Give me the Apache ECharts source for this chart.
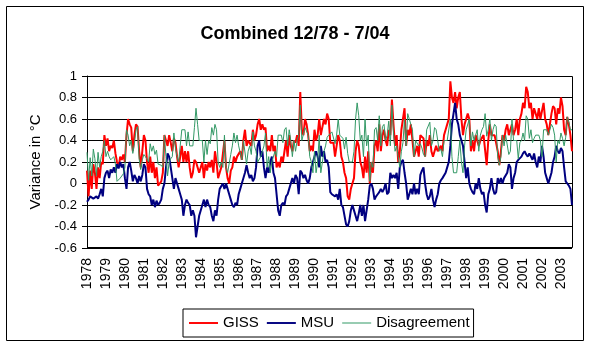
<!DOCTYPE html>
<html>
<head>
<meta charset="utf-8">
<script src="https://cdn.jsdelivr.net/npm/echarts@6/dist/echarts.min.js"></script>
<style>
html,body{margin:0;padding:0;background:#fff;}
#c{width:590px;height:347px;}
</style>
</head>
<body>
<div id="c"></div>
<script>
// Monthly values, 12/1978 .. 7/2004 (308 months)
const yearLabels = ['1978','1979','1980','1981','1982','1983','1984','1985','1986','1987','1988','1989','1990','1991','1992','1993','1994','1995','1996','1997','1998','1999','2000','2001','2002','2003'];

const giss = [
 0.12,-0.12,0.12,-0.05,0.18,0.1,-0.05,0.15,0.05,0.2,0.18,0.45,
 0.35,0.42,0.3,0.35,0.33,0.4,0.28,0.2,0.15,0.25,0.22,0.27,
 0.2,0.45,0.6,0.55,0.52,0.3,0.45,0.55,0.53,0.3,0.15,0.3,
 0.45,0.4,0.2,0.1,0.25,0.1,0.2,0.05,0.15,-0.02,0.0,0.02,
 0.1,0.45,0.4,0.35,0.45,0.38,0.3,0.42,0.38,0.25,0.15,0.25,
 0.35,0.2,0.3,0.2,0.3,0.15,0.05,0.1,0.22,0.2,0.15,0.1,
 0.1,0.2,0.05,0.18,0.12,0.2,0.15,0.22,0.1,0.3,0.2,0.05,
 0.1,0.15,0.15,0.4,0.15,0.05,0.0,0.12,0.15,0.25,0.2,0.25,
 0.25,0.3,0.22,0.4,0.5,0.35,0.4,0.4,0.35,0.5,0.4,0.45,
 0.55,0.6,0.5,0.55,0.5,0.52,0.3,0.35,0.3,0.45,0.3,0.35,
 0.15,0.2,0.15,0.25,0.2,0.3,0.4,0.25,0.45,0.35,0.3,0.4,
 0.38,0.45,0.35,0.85,0.5,0.45,0.6,0.55,0.45,0.3,0.35,0.3,
 0.5,0.4,0.45,0.6,0.45,0.45,0.6,0.55,0.65,0.6,0.38,0.38,
 0.38,0.25,0.35,0.45,0.4,0.25,0.2,0.1,0.05,-0.12,-0.15,-0.05,
 0.0,0.05,0.3,0.4,0.35,0.2,0.15,0.05,0.25,0.1,0.3,0.0,
 0.2,0.1,0.35,0.4,0.3,0.55,0.3,0.45,0.5,0.4,0.35,0.5,
 0.45,0.78,0.55,0.35,0.45,0.2,0.3,0.5,0.6,0.7,0.35,0.5,
 0.45,0.55,0.4,0.25,0.3,0.35,0.25,0.45,0.45,0.42,0.25,0.4,
 0.35,0.45,0.3,0.25,0.3,0.35,0.3,0.3,0.35,0.3,0.45,0.5,
 0.55,0.6,0.95,0.8,0.75,0.85,0.7,0.8,0.85,0.6,0.45,0.55,
 0.55,0.65,0.6,0.3,0.4,0.3,0.45,0.45,0.35,0.4,0.4,0.45,
 0.45,0.17,0.4,0.55,0.45,0.45,0.45,0.45,0.3,0.17,0.3,0.45,
 0.4,0.5,0.55,0.45,0.45,0.55,0.45,0.5,0.6,0.45,0.6,0.65,
 0.75,0.7,0.9,0.85,0.7,0.75,0.6,0.7,0.65,0.6,0.7,0.6,
 0.6,0.75,0.6,0.55,0.45,0.55,0.65,0.72,0.7,0.55,0.7,0.65,
 0.8,0.72,0.5,0.45,0.62,0.55,0.45,0.3
];

const msu = [
 -0.17,-0.15,-0.12,-0.12,-0.14,-0.13,-0.12,-0.14,-0.1,-0.05,-0.12,0.05,
 0.1,0.12,0.05,0.13,0.1,0.15,0.1,0.18,0.14,0.2,0.15,0.18,
 0.05,-0.05,0.15,0.2,0.12,0.02,0.08,0.05,0.0,0.07,0.02,0.08,
 0.18,0.15,-0.05,-0.1,-0.12,-0.2,-0.15,-0.22,-0.16,-0.2,-0.18,-0.15,
 -0.05,0.0,0.15,0.28,0.25,0.15,0.05,-0.05,0.05,0.0,-0.05,-0.1,
 -0.15,-0.3,-0.2,-0.15,-0.18,-0.2,-0.3,-0.25,-0.3,-0.5,-0.4,-0.3,
 -0.3,-0.2,-0.15,-0.22,-0.15,-0.2,-0.22,-0.3,-0.35,-0.25,-0.3,-0.15,
 -0.05,-0.05,0.0,-0.05,0.0,-0.05,-0.1,-0.15,-0.2,-0.22,-0.18,-0.2,
 -0.1,-0.05,0.0,0.0,0.1,0.17,0.1,0.05,0.08,0.02,0.05,0.15,
 0.35,0.4,0.25,0.3,0.15,0.05,0.15,0.1,0.2,0.25,0.1,0.05,
 -0.1,-0.25,-0.3,-0.2,-0.18,-0.2,-0.12,-0.1,-0.05,-0.05,0.05,0.0,
 0.08,0.05,-0.1,0.12,0.1,0.05,0.08,0.03,0.0,0.05,0.15,0.2,
 0.2,0.3,0.25,0.15,0.35,0.25,0.3,0.2,0.22,0.15,-0.08,-0.1,
 -0.1,-0.12,-0.1,-0.15,-0.05,-0.2,-0.22,-0.22,-0.38,-0.4,-0.35,-0.25,
 -0.2,-0.25,-0.3,-0.35,-0.28,-0.2,-0.3,-0.2,-0.35,-0.25,-0.15,-0.02,
 0.0,-0.05,-0.15,-0.12,-0.1,-0.08,-0.05,-0.08,-0.05,0.0,-0.1,-0.08,
 0.1,0.05,0.08,0.05,0.1,-0.05,0.15,0.2,0.22,0.1,0.0,-0.15,
 -0.15,-0.05,-0.1,0.0,-0.1,-0.05,-0.1,0.08,0.12,0.15,0.0,-0.1,
 -0.15,-0.12,-0.05,-0.15,-0.22,-0.15,-0.1,0.0,0.03,0.05,0.05,0.1,
 0.15,0.2,0.35,0.55,0.65,0.75,0.6,0.55,0.45,0.4,0.35,0.2,
 0.05,0.15,0.0,-0.05,-0.08,-0.1,0.0,-0.05,0.05,-0.05,-0.1,-0.08,
 -0.2,-0.27,-0.1,-0.05,0.05,-0.05,-0.1,-0.08,0.05,0.0,0.05,0.0,
 0.05,0.05,0.1,0.18,0.15,-0.05,0.05,0.1,0.2,0.22,0.22,0.25,
 0.28,0.3,0.27,0.25,0.28,0.25,0.22,0.28,0.2,0.15,0.25,0.2,
 0.35,0.25,0.1,0.05,0.0,0.05,0.1,0.2,0.25,0.35,0.3,0.28,
 0.33,0.3,0.15,0.02,0.0,-0.02,-0.05,-0.2
];

const disagreement = [
 0.29,0.03,0.24,0.07,0.32,0.23,0.07,0.29,0.15,0.25,0.30,0.40,
 0.25,0.30,0.25,0.22,0.23,0.25,0.18,0.02,0.01,0.05,0.07,0.09,
 0.15,0.50,0.45,0.35,0.40,0.28,0.37,0.50,0.53,0.23,0.13,0.22,
 0.27,0.25,0.25,0.20,0.37,0.30,0.35,0.27,0.31,0.18,0.18,0.17,
 0.15,0.45,0.25,0.07,0.20,0.23,0.25,0.47,0.33,0.25,0.20,0.35,
 0.50,0.50,0.50,0.35,0.48,0.35,0.35,0.35,0.52,0.70,0.55,0.40,
 0.40,0.40,0.20,0.40,0.27,0.40,0.37,0.52,0.45,0.55,0.50,0.20,
 0.15,0.20,0.15,0.45,0.15,0.10,0.10,0.27,0.35,0.47,0.38,0.45,
 0.35,0.35,0.22,0.40,0.40,0.18,0.30,0.35,0.27,0.48,0.35,0.30,
 0.20,0.20,0.25,0.25,0.35,0.47,0.15,0.25,0.10,0.20,0.20,0.30,
 0.25,0.45,0.45,0.45,0.38,0.50,0.52,0.35,0.50,0.40,0.25,0.40,
 0.30,0.40,0.45,0.73,0.40,0.40,0.52,0.52,0.45,0.25,0.20,0.10,
 0.30,0.10,0.20,0.45,0.10,0.20,0.30,0.35,0.43,0.45,0.46,0.48,
 0.48,0.37,0.45,0.60,0.45,0.45,0.42,0.32,0.43,0.28,0.20,0.20,
 0.20,0.30,0.60,0.75,0.63,0.40,0.45,0.25,0.60,0.35,0.45,0.02,
 0.20,0.15,0.50,0.52,0.40,0.63,0.35,0.53,0.55,0.40,0.45,0.58,
 0.35,0.73,0.47,0.30,0.35,0.25,0.15,0.30,0.38,0.60,0.35,0.65,
 0.60,0.60,0.50,0.25,0.40,0.40,0.35,0.37,0.33,0.27,0.25,0.50,
 0.50,0.57,0.35,0.40,0.52,0.50,0.40,0.30,0.32,0.25,0.40,0.40,
 0.40,0.40,0.60,0.25,0.10,0.10,0.10,0.25,0.40,0.20,0.10,0.35,
 0.50,0.50,0.60,0.35,0.48,0.40,0.45,0.50,0.30,0.45,0.50,0.53,
 0.65,0.44,0.50,0.60,0.40,0.50,0.55,0.53,0.25,0.17,0.25,0.45,
 0.35,0.45,0.45,0.27,0.30,0.60,0.40,0.40,0.40,0.23,0.38,0.40,
 0.47,0.40,0.63,0.60,0.42,0.50,0.38,0.42,0.45,0.45,0.45,0.40,
 0.25,0.50,0.50,0.50,0.45,0.50,0.55,0.52,0.45,0.20,0.40,0.37,
 0.47,0.42,0.35,0.43,0.62,0.57,0.50,0.50
];

// month categories 12/78 .. 7/04
const months = [];
for (let i = 0; i < giss.length; i++) {
  const m = (11 + i) % 12 + 1;
  const y = 1978 + Math.floor((11 + i) / 12);
  months.push(m + '/' + String(y).slice(2));
}

const FONT = 'Liberation Sans, Arial, sans-serif';
const thickIcon = 'path://M0,0L30,0L30,2L0,2Z';
const thinIcon = 'path://M0,0L0.01,0L0.01,0.01Z M0,0.5L30,0.5L30,1.5L0,1.5Z M0,1.99L0.01,1.99L0.01,2Z';

const chart = echarts.init(document.getElementById('c'), null, {renderer: 'canvas'});
chart.setOption({
  animation: false,
  backgroundColor: '#fff',
  title: {
    text: 'Combined 12/78 - 7/04',
    left: 'center',
    top: 20,
    textStyle: {fontFamily: FONT, fontSize: 18, fontWeight: 'bold', color: '#000'}
  },
  legend: {
    data: [
      {name: 'GISS', icon: thickIcon},
      {name: 'MSU', icon: thickIcon},
      {name: 'Disagreement', icon: thinIcon}
    ],
    left: 183,
    top: 309,
    orient: 'horizontal',
    borderColor: '#000',
    borderWidth: 1,
    borderRadius: 0,
    padding: [6, 4, 6, 6],
    itemGap: 8,
    itemWidth: 29,
    itemHeight: 2,
    itemStyle: {borderWidth: 0},
    textStyle: {fontFamily: FONT, fontSize: 15, color: '#000', lineHeight: 16}
  },
  grid: {left: 87, right: 18, top: 76, bottom: 99, containLabel: false},
  xAxis: {
    type: 'category',
    data: months,
    boundaryGap: false,
    axisLine: {lineStyle: {color: '#000', width: 1}},
    axisTick: {show: false},
    axisLabel: {
      interval: 11,
      rotate: 90,
      margin: 10,
      fontFamily: FONT,
      fontSize: 14,
      color: '#000',
      formatter: function (v, idx) { return yearLabels[Math.round(idx / 12)]; }
    },
    splitLine: {show: false}
  },
  yAxis: {
    type: 'value',
    min: -0.6,
    max: 1,
    interval: 0.2,
    name: 'Variance in °C',
    nameLocation: 'middle',
    nameGap: 44,
    nameRotate: 90,
    nameTextStyle: {fontFamily: FONT, fontSize: 15, color: '#000'},
    axisLine: {show: true, lineStyle: {color: '#000', width: 1}},
    axisTick: {show: true, length: 5, lineStyle: {color: '#000'}},
    axisLabel: {
      fontFamily: FONT, fontSize: 13, color: '#000', margin: 10,
      formatter: function (v) { return String(Math.round(v * 10) / 10); }
    },
    splitLine: {show: true, lineStyle: {color: '#000', width: 1}}
  },
  series: [
    {name: 'GISS', type: 'line', data: giss, symbol: 'none', lineStyle: {color: '#ff0000', width: 2}, itemStyle: {color: '#ff0000'}},
    {name: 'MSU', type: 'line', data: msu, symbol: 'none', lineStyle: {color: '#000080', width: 2}, itemStyle: {color: '#000080'}},
    {name: 'Disagreement', type: 'line', data: disagreement, symbol: 'none', lineStyle: {color: '#339966', width: 1}, itemStyle: {color: '#339966'}}
  ],
  graphic: [
    {type: 'rect', shape: {x: 6.5, y: 6.5, width: 577, height: 334}, style: {fill: 'none', stroke: '#000', lineWidth: 1}, silent: true},
    {type: 'rect', shape: {x: 87.5, y: 76.5, width: 485, height: 171}, style: {fill: 'none', stroke: '#000', lineWidth: 1}, silent: true, z: 0}
  ]
});
</script>
</body>
</html>
